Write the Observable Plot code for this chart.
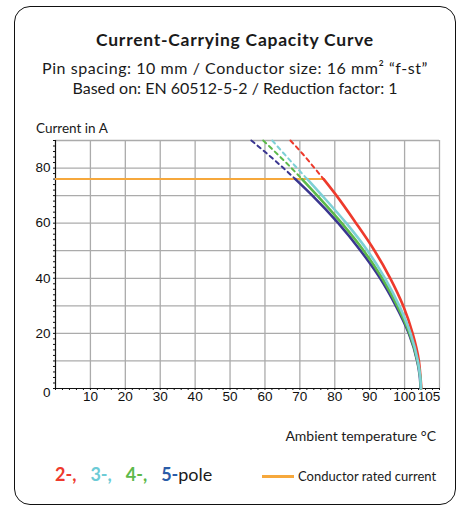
<!DOCTYPE html>
<html>
<head>
<meta charset="utf-8">
<script src="https://cdn.jsdelivr.net/npm/d3@7"></script>
<script src="https://cdn.jsdelivr.net/npm/@observablehq/plot@0.6"></script>
<style>
  html, body { margin: 0; padding: 0; background: #fff; }
  #wrap { position: relative; width: 465px; height: 507px; overflow: hidden; font-family: "Lato", sans-serif; color: #1a1a1a; }
  #box { position: absolute; left: 14px; top: 6px; width: 442px; height: 499px; border: 1.5px solid #111; border-radius: 16px; box-sizing: border-box; }
  .t { position: absolute; white-space: nowrap; }
  #title { left: 0; width: 470px; text-align: center; top: 29px; font-size: 17.5px; letter-spacing: 0.75px; font-weight: bold; }
  #sub1 { left: 0; width: 470px; text-align: center; top: 58px; font-size: 16px; letter-spacing: 0.55px; }
  #sub2 { left: 0; width: 470px; text-align: center; top: 78px; font-size: 16px; }
  #ylab { left: 36px; top: 120px; font-size: 13.5px; }
  #xlab { right: 29px; top: 427px; font-size: 14px; }
  #leg1 { left: 55px; top: 463px; font-size: 18px; }
  #leg1 b { font-weight: bold; }
  #leg2 { left: 262px; top: 468px; font-size: 13px; display: flex; align-items: center; }
  #leg2 span.sw { display: inline-block; width: 32px; height: 3px; margin-right: 4px; }
  #chart { position: absolute; left: 0; top: 0; }
</style>
</head>
<body>
<div id="wrap">
  <div id="box"></div>
  <div class="t" id="title">Current-Carrying Capacity Curve</div>
  <div class="t" id="sub1">Pin spacing: 10 mm / Conductor size: 16 mm² “f-st”</div>
  <div class="t" id="sub2">Based on: EN 60512-5-2 / Reduction factor: 1</div>
  <div class="t" id="ylab">Current in A</div>
  <div class="t" id="xlab">Ambient temperature °C</div>
  <div class="t" id="leg1"></div>
  <div class="t" id="leg2"><span class="sw"></span><span>Conductor rated current</span></div>
  <div id="chart"></div>
</div>
<script>
// ---- data ----
const currents = [90, 85, 80, 76, 70, 60, 50, 40, 30, 20, 10, 5, 0];
const pole2 = [67.3, 70.9, 74.2, 76.8, 80.5, 86.1, 91.4, 95.9, 99.6, 102.3, 104.1, 104.5, 104.8];
const pole3 = [62.1, 65.6, 69.2, 72.1, 76.4, 83.3, 89.4, 94.4, 98.5, 101.7, 103.8, 104.4, 104.7];
const pole4 = [59.5, 63.6, 67.6, 70.6, 75.0, 82.0, 88.3, 93.6, 97.9, 101.4, 103.7, 104.4, 104.7];
const pole5 = [56.1, 60.8, 65.3, 68.7, 73.6, 81.0, 87.4, 93.0, 97.5, 101.2, 103.6, 104.3, 104.6];
const seriesNames = ["2-pole", "3-pole", "4-pole", "5-pole"];
const seriesColors = ["#ee3a2c", "#7ed0d6", "#5cb94a", "#3a3690"];
const legendColors = ["#ee3a2c", "#6ccbd6", "#5cb94a", "#2a5ca8"];
const ratedCurrent = 76;
const ratedEnd = 76.8;
const xTicks = [10, 20, 30, 40, 50, 60, 70, 80, 90, 100];
const xExtraTick = [105];
const yTicks = [20, 40, 60, 80];
const yZeroTick = [0];
const ratedColor = "#f6a83c";

// ---- build rows ----
const seriesTemps = {"2-pole": pole2, "3-pole": pole3, "4-pole": pole4, "5-pole": pole5};
const drawOrder = ["2-pole", "5-pole", "4-pole", "3-pole"];
const rows = [];
for (const s of drawOrder) {
  currents.forEach((c, i) => rows.push({series: s, T: seriesTemps[s][i], I: c}));
}
const dashedRows = rows.filter(d => d.I >= ratedCurrent);
const solidRows = rows.filter(d => d.I <= ratedCurrent);

// legend text
const leg1 = document.getElementById("leg1");
const legLabels = ["2-,", "3-,", "4-,", "5-"];
leg1.innerHTML = legLabels.map((l, i) =>
  `<b style="color:${legendColors[i]}">${l}</b>`).join('<span style="display:inline-block;width:14px"></span>') + '<span style="color:#1a1a1a">pole</span>';
document.querySelector("#leg2 .sw").style.background = ratedColor;

const grid = {stroke: "#ababab", strokeWidth: 1.3, strokeOpacity: 1};
const chart = Plot.plot({
  width: 465,
  height: 507,
  marginLeft: 55,
  marginRight: 26,
  marginTop: 140,
  marginBottom: 119,
  x: {domain: [0, 110]},
  y: {domain: [0, 90]},
  color: {domain: seriesNames, range: seriesColors},
  style: {fontFamily: "Liberation Sans, Arial, sans-serif", fontSize: "13.5px", color: "#111", background: "transparent"},
  marks: [
    Plot.ruleX(d3.range(10, 111, 10), grid),
    Plot.ruleY(d3.range(10, 91, 10), grid),
    Plot.axisX(d3.range(0, 111, 2), {tickSize: 2, tickFormat: () => "", stroke: "#111", label: null}),
    Plot.axisY(d3.range(0, 91, 2), {tickSize: 2, tickFormat: () => "", stroke: "#111", label: null}),
    Plot.axisX(xTicks, {tickSize: 0, tickPadding: 3, label: null}),
    Plot.axisX(xExtraTick, {tickSize: 0, tickPadding: 3, dx: 7, label: null}),
    Plot.axisY(yTicks, {tickSize: 0, tickPadding: 5, label: null}),
    Plot.axisY(yZeroTick, {tickSize: 0, tickPadding: 5, dy: 4, label: null}),
    Plot.ruleX([0], {stroke: "#111", strokeWidth: 1.2}),
    Plot.ruleY([0], {stroke: "#111", strokeWidth: 1.2}),
    Plot.ruleY([ratedCurrent], {x1: 0, x2: ratedEnd, stroke: ratedColor, strokeWidth: 2}),
    Plot.line(dashedRows, {x: "T", y: "I", z: "series", stroke: "series", curve: "monotone-y", strokeWidth: 2, strokeDasharray: "4,4"}),
    Plot.line(solidRows, {x: "T", y: "I", z: "series", stroke: "series", curve: "monotone-y", strokeWidth: 2.6})
  ]
});
document.getElementById("chart").appendChild(chart);
</script>
</body>
</html>
